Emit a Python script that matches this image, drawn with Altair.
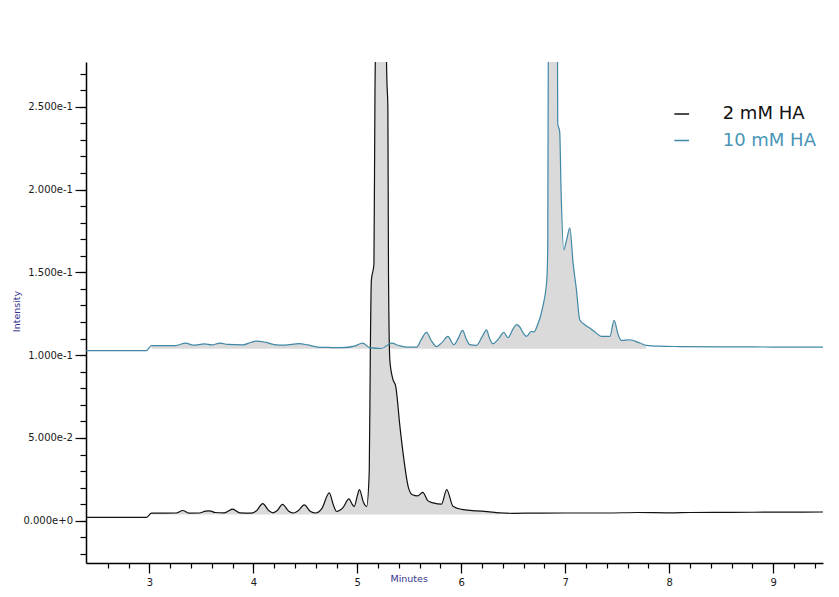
import altair as alt
import pandas as pd

# ---------------- data ----------------
series_names = ["2 mM HA", "10 mM HA"]
line_colors = ["#111111", "#3f88a6"]
label_colors = ["#111111", "#4a95b8"]

x_2mM = [2.39, 2.60, 2.80, 2.97, 3.02, 3.15, 3.26, 3.32, 3.38, 3.48, 3.54, 3.58, 3.63, 3.72,
         3.80, 3.87, 3.98, 4.03, 4.09, 4.15, 4.19, 4.23, 4.28, 4.34, 4.39, 4.43, 4.49, 4.55,
         4.60, 4.66, 4.73, 4.77, 4.80, 4.86, 4.92, 4.95, 4.97, 5.00, 5.02, 5.06, 5.09, 5.115,
         5.125, 5.135, 5.16, 5.17, 5.225, 5.28, 5.285, 5.294, 5.30, 5.313, 5.34, 5.37, 5.41,
         5.44, 5.49, 5.53, 5.58, 5.63, 5.68, 5.73, 5.81, 5.86, 5.92, 6.02, 6.15, 6.25, 6.37,
         6.50, 6.70, 7.00, 7.40, 7.70, 8.00, 8.20, 8.60, 9.00, 9.48]
y_2mM = [0.0020, 0.0020, 0.0020, 0.0020, 0.0046, 0.0046, 0.0047, 0.0062, 0.0046, 0.0047,
         0.0058, 0.0060, 0.0050, 0.0048, 0.0070, 0.0048, 0.0046, 0.0060, 0.0104, 0.0060,
         0.0048, 0.0062, 0.0099, 0.0058, 0.0047, 0.0060, 0.0096, 0.0056, 0.0047, 0.0075,
         0.0168, 0.0095, 0.0056, 0.0078, 0.0132, 0.0100, 0.0086, 0.0150, 0.0188, 0.0110,
         0.0086, 0.0300, 0.1000, 0.1450, 0.1550, 0.2600, 0.4200, 0.2800, 0.2650, 0.2500,
         0.1500, 0.0970, 0.0860, 0.0810, 0.0570, 0.0410, 0.0205, 0.0157, 0.0150, 0.0172,
         0.0120, 0.0108, 0.0100, 0.0188, 0.0088, 0.0067, 0.0060, 0.0055, 0.0048, 0.0045,
         0.0046, 0.0047, 0.0047, 0.0050, 0.0048, 0.0050, 0.0051, 0.0052, 0.0053]

x_10mM = [2.39, 2.97, 3.02, 3.25, 3.35, 3.42, 3.53, 3.60, 3.68, 3.75, 3.90, 3.98, 4.03, 4.12,
          4.20, 4.30, 4.44, 4.52, 4.62, 4.75, 4.85, 4.98, 5.05, 5.12, 5.23, 5.33, 5.40, 5.48,
          5.57, 5.62, 5.666, 5.71, 5.762, 5.82, 5.871, 5.928, 5.97, 6.012, 6.05, 6.082, 6.147,
          6.20, 6.243, 6.27, 6.303, 6.36, 6.41, 6.448, 6.50, 6.531, 6.56, 6.60, 6.627, 6.675,
          6.70, 6.727, 6.784, 6.823, 6.832, 6.838, 6.88, 6.925, 6.928, 6.947, 6.96, 6.986,
          7.015, 7.044, 7.076, 7.108, 7.14, 7.188, 7.236, 7.30, 7.35, 7.43, 7.47, 7.51, 7.54,
          7.62, 7.72, 7.78, 7.90, 8.10, 8.60, 9.00, 9.48]
y_10mM = [0.1027, 0.1027, 0.1057, 0.1058, 0.1073, 0.1060, 0.1068, 0.1062, 0.1073, 0.1065,
          0.1062, 0.1078, 0.1085, 0.1077, 0.1064, 0.1060, 0.1069, 0.1062, 0.1049, 0.1046,
          0.1045, 0.1056, 0.1073, 0.1045, 0.1040, 0.1072, 0.1058, 0.1048, 0.1048, 0.1100,
          0.1137, 0.1090, 0.1052, 0.1080, 0.1113, 0.1063, 0.1100, 0.1149, 0.1095, 0.1063,
          0.1059, 0.1110, 0.1153, 0.1105, 0.1069, 0.1100, 0.1137, 0.1105, 0.1160, 0.1184,
          0.1173, 0.1130, 0.1113, 0.1143, 0.1140, 0.1171, 0.1292, 0.1455, 0.1650, 0.3000,
          0.4000, 0.3000, 0.2400, 0.2350, 0.2000, 0.1636, 0.1700, 0.1768, 0.1556, 0.1395,
          0.1214, 0.1184, 0.1164, 0.1133, 0.1113, 0.1113, 0.1210, 0.1123, 0.1089, 0.1093,
          0.1073, 0.1059, 0.1054, 0.1052, 0.1050, 0.1049, 0.1048]

# shaded (integrated) region per series
fill_start = [3.0, 3.0]
fill_end = [6.4, 7.8]
fill_base = [0.0038, 0.1038]

# axis ticks
x_major = [3, 4, 5, 6, 7, 8, 9]
x_minor = [2.6, 2.8, 3.0, 3.2, 3.4, 3.6, 3.8, 4.0, 4.2, 4.4, 4.6, 4.8, 5.0, 5.2, 5.4, 5.6,
           5.8, 6.0, 6.2, 6.4, 6.6, 6.8, 7.0, 7.2, 7.4, 7.6, 7.8, 8.0, 8.2, 8.4, 8.6, 8.8,
           9.0, 9.2, 9.4]
y_major = [0.0, 0.05, 0.10, 0.15, 0.20, 0.25]
y_minor = [-0.02, -0.01, 0.0, 0.01, 0.02, 0.03, 0.04, 0.05, 0.06, 0.07, 0.08, 0.09, 0.10,
           0.11, 0.12, 0.13, 0.14, 0.15, 0.16, 0.17, 0.18, 0.19, 0.20, 0.21, 0.22, 0.23,
           0.24, 0.25, 0.26, 0.27]

# ---------------- table ----------------
rows = []
for i, (xs, ys) in enumerate([(x_2mM, y_2mM), (x_10mM, y_10mM)]):
    for xv, yv in zip(xs, ys):
        rows.append({"series": series_names[i], "x": xv, "y": yv,
                     "lo": fill_start[i], "hi": fill_end[i], "base": fill_base[i]})
df = pd.DataFrame(rows)

FONT = "DejaVu Sans"
x_scale = alt.Scale(domain=[2.39, 9.48], nice=False, zero=False)
y_scale = alt.Scale(domain=[-0.0255, 0.277], nice=False, zero=False)

fill = (
    alt.Chart(df)
    .transform_filter("datum.x >= datum.lo && datum.x <= datum.hi")
    .mark_area(color="#dadada", clip=True, interpolate="monotone")
    .encode(
        x=alt.X("x:Q", scale=x_scale,
                axis=alt.Axis(orient="bottom", values=x_minor, labels=False, domain=False,
                              grid=False, tickSize=5, tickColor="#000000", tickWidth=1.2,
                              title=None)),
        y=alt.Y("y:Q", scale=y_scale,
                axis=alt.Axis(orient="left", values=y_minor, labels=False, domain=False,
                              grid=False, tickSize=6, tickColor="#000000", tickWidth=1.2,
                              title=None)),
        y2="base:Q",
        detail="series:N",
    )
)

label_expr = ("datum.value == '%s' ? '%s' : '%s'"
              % (series_names[1], label_colors[1], label_colors[0]))

lines = (
    alt.Chart(df)
    .mark_line(clip=True, strokeWidth=1.2, interpolate="monotone")
    .encode(
        x=alt.X("x:Q", scale=x_scale,
                axis=alt.Axis(orient="bottom", values=x_major, format="d", grid=False,
                              tickSize=10, tickColor="#000000", tickWidth=1.2,
                              domainColor="#000000", domainWidth=1.5,
                              labelFont=FONT, labelFontSize=10, labelColor="#1a1a1a",
                              labelPadding=4, labelFlush=False,
                              title="Minutes", titleFont=FONT, titleFontSize=9.5,
                              titleFontWeight="normal", titleColor="#33338f",
                              titleX=322.7, titleY=15.5, titleBaseline="middle",
                              titleAlign="center")),
        y=alt.Y("y:Q", scale=y_scale,
                axis=alt.Axis(orient="left", values=y_major, format=".3e", grid=False,
                              tickSize=11, tickColor="#000000", tickWidth=1.2,
                              domainColor="#000000", domainWidth=1.5,
                              labelFont=FONT, labelFontSize=10, labelColor="#1a1a1a",
                              labelPadding=2.5,
                              title="Intensity", titleFont=FONT, titleFontSize=9.5,
                              titleFontWeight="normal", titleColor="#33338f",
                              titleAngle=270, titleX=-70, titleY=249,
                              titleAlign="center", titleBaseline="middle")),
        color=alt.Color("series:N",
                        scale=alt.Scale(domain=series_names, range=line_colors),
                        legend=alt.Legend(title=None, orient="none", legendX=586.7,
                                          legendY=43, padding=0, symbolType="stroke",
                                          symbolSize=216, symbolStrokeWidth=1.5,
                                          labelFont=FONT, labelFontSize=18,
                                          labelOffset=32, rowPadding=8.5,
                                          labelColor=alt.ExprRef(label_expr))),
    )
)

chart = (
    alt.layer(fill, lines)
    .resolve_scale(x="shared", y="shared")
    .resolve_axis(x="independent", y="independent")
    .properties(width=737, height=501,
                autosize=alt.AutoSizeParams(type="none"),
                padding={"left": 78, "top": 54, "right": 8, "bottom": 26})
    .configure_view(stroke="transparent")
)

chart.save("out.html", embed_options={"renderer": "svg", "actions": False})
